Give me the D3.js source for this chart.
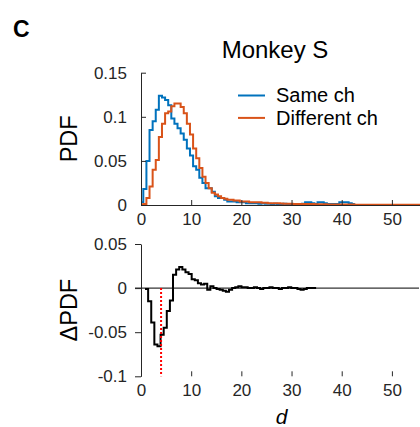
<!DOCTYPE html>
<html><head><meta charset="utf-8">
<script src="https://cdn.jsdelivr.net/npm/d3@7"></script>
<style>body{margin:0;background:#fff}svg{display:block}</style>
</head><body>
<script>
// ---------- data ----------
const binWidth = 0.62;          // histogram bin width (d units)
const histStart = -0.16;        // first edge of top-panel bins
const diffStart = 0.8;          // first edge of ΔPDF bins
const sameCh = [0.003,0.018,0.050,0.085,0.095,0.108,0.124,0.122,0.119,0.113,
  0.098,0.092,0.087,0.081,0.074,0.064,0.056,0.044,0.040,0.031,
  0.025,0.019,0.019,0.015,0.010,0.008,0.008,0.006,0.004,0.004,
  0.004,0.003,0.003,0.003,0.002,0.002,0.002,0.002,0.0015,0.002,
  0.0015,0.0015,0.001,0.0015,0.001,0.001,0.0015,0.001,0.001,0.001,
  0.001,0.001,0.0015,0.003,0.003,0.002,0.001,0.003,0.003,0.002,
  0.001,0.001,0.001,0.001,0.003,0.003,0.003,0.002,0.001];
const diffCh = [0.000,0.001,0.008,0.021,0.040,0.051,0.077,0.092,0.104,0.106,
  0.112,0.115,0.115,0.111,0.104,0.092,0.080,0.064,0.053,0.042,
  0.032,0.025,0.019,0.014,0.012,0.010,0.008,0.007,0.006,0.006,
  0.005,0.005,0.004,0.004,0.004,0.003,0.003,0.003,0.003,0.0025,
  0.0025,0.002,0.002,0.002,0.002,0.0018,0.0015,0.0015,0.0015,0.0012,
  0.0012,0.001,0.001,0.001,0.001,0.001,0.0008,0.0008,0.0008,0.0008,
  0.0007,0.0007,0.0006,0.0006,0.0006,0.0005,0.0005,0.0005,0.0005,0.0004,
  0.0004,0.0004,0.0004,0.0004,0.0003,0.0003,0.0003,0.0003,0.0003,0.0003,
  0.0003,0.0002,0.0002,0.0002,0.0002,0.0002,0.0002,0.0002,0.0002,0.0002];
const deltaPDF = [-0.001,-0.015,-0.039,-0.064,-0.066,-0.053,-0.045,-0.026,-0.014,0.015,
  0.021,0.024,0.021,0.018,0.016,0.010,0.009,0.0056,0.004,0.005,
  -0.002,0.002,0.000,-0.001,-0.002,-0.003,-0.004,-0.002,0.000,0.001,
  0.002,0.001,0.001,0.000,0.000,0.001,0.000,-0.001,0.000,0.000,
  0.001,0.000,0.000,-0.001,0.000,0.000,0.001,0.000,0.000,-0.001,
  -0.002,-0.001,0.000,0.000,0.000];
const criticalD = 4.0;
const xTicks = [0,10,20,30,40,50];
const topYTicks = [0,0.05,0.1,0.15];
const topYLabels = ["0","0.05","0.1","0.15"];
const botYTicks = [-0.1,-0.05,0,0.05];
const botYLabels = ["-0.1","-0.05","0","0.05"];
const legendLabels = ["Same ch","Different ch"];
const colors = ["#0072BD","#D95319"];

// ---------- drawing ----------
const W = 420, H = 427;
const svg = d3.select("body").append("svg").attr("width",W).attr("height",H);
const axisCol = "#262626";
const tickFont = "'Liberation Sans', Arial, sans-serif";
const labFont = "'Liberation Sans', Arial, sans-serif";

const x = d3.scaleLinear().domain([0,56]).range([141,422]);
const yTop = d3.scaleLinear().domain([0,0.15]).range([205,72.7]);
const yBot = d3.scaleLinear().domain([-0.1,0.05]).range([376.3,244]);

function stepPoints(vals, start, clip0){
  const pts = vals.map((v,i)=>[Math.max(start + i*binWidth, clip0?0:-Infinity), v]);
  pts.push([start + vals.length*binWidth, vals[vals.length-1]]);
  return pts;
}

// top panel series
[sameCh, diffCh].forEach((vals,i)=>{
  const pts = stepPoints(vals, histStart, true);
  const line = d3.line().x(p=>x(Math.min(p[0],56))).y(p=>yTop(p[1])).curve(d3.curveStepAfter);
  svg.append("path").attr("d", line(pts)).attr("fill","none")
     .attr("stroke", colors[i]).attr("stroke-width",2).attr("stroke-linejoin","miter");
});

// top axes
const gTopY = svg.append("g").attr("transform",`translate(${x(0)},0)`)
  .call(d3.axisLeft(yTop).tickValues(topYTicks).tickFormat((d,i)=>topYLabels[i]).tickSizeInner(-5).tickSizeOuter(0).tickPadding(14));
const gTopX = svg.append("g").attr("transform",`translate(0,${yTop(0)})`)
  .call(d3.axisBottom(x).tickValues(xTicks).tickFormat(d3.format("d")).tickSizeInner(-5).tickSizeOuter(0).tickPadding(8));

// bottom panel
svg.append("line").attr("x1",135).attr("x2",419).attr("y1",yBot(0)).attr("y2",yBot(0))
  .attr("stroke","#000").attr("stroke-width",1);
const gBotY = svg.append("g").attr("transform",`translate(${x(0)},0)`)
  .call(d3.axisLeft(yBot).tickValues(botYTicks).tickFormat((d,i)=>botYLabels[i]).tickSizeInner(6).tickSizeOuter(0).tickPadding(8));
const gBotX = svg.append("g").attr("transform",`translate(0,${yBot(-0.1)})`)
  .call(d3.axisBottom(x).tickValues(xTicks).tickFormat(d3.format("d")).tickSizeInner(-5).tickSizeOuter(0).tickPadding(8));
gBotX.select(".domain").remove();

[gTopY,gTopX,gBotY,gBotX].forEach(g=>{
  g.selectAll("path,line").attr("stroke",axisCol);
  g.selectAll("text").attr("fill",axisCol).style("font-family",tickFont).style("font-size","17px");
});

const dLine = d3.line().x(p=>x(p[0])).y(p=>yBot(p[1])).curve(d3.curveStepAfter);
svg.append("path").attr("d", dLine(stepPoints(deltaPDF, diffStart, false))).attr("fill","none")
  .attr("stroke","#000").attr("stroke-width",2);
svg.append("line").attr("x1",x(criticalD)).attr("x2",x(criticalD))
  .attr("y1",yBot(0)).attr("y2",yBot(-0.1))
  .attr("stroke","#ff0000").attr("stroke-width",2).attr("stroke-dasharray","2,2");

// texts
svg.append("text").attr("x",13).attr("y",37).text("C")
  .style("font-family",tickFont).style("font-weight","bold").style("font-size","23px").attr("fill","#000");
svg.append("text").attr("x",275).attr("y",58).attr("text-anchor","middle").text("Monkey S")
  .style("font-family",labFont).style("font-size","24px").attr("fill","#000");
// legend
const legY0 = 95.5, legStep = 22.4;
legendLabels.forEach((l,i)=>{
  const yy = legY0 + i*legStep;
  svg.append("line").attr("x1",238).attr("x2",265).attr("y1",yy).attr("y2",yy)
    .attr("stroke",colors[i]).attr("stroke-width",2);
  svg.append("text").attr("x",276).attr("y",yy + 6.8).text(l)
    .style("font-family",labFont).style("font-size","20px").attr("fill","#000");
});
svg.append("text").attr("transform",`translate(77,${(yTop(0)+yTop(0.15))/2}) rotate(-90)`)
  .attr("text-anchor","middle").text("PDF")
  .style("font-family",labFont).style("font-size","23.5px").attr("fill","#000");
svg.append("text").attr("transform",`translate(77,${yBot(-0.025)}) rotate(-90)`)
  .attr("text-anchor","middle").text("ΔPDF")
  .style("font-family",labFont).style("font-size","23.5px").attr("fill","#000");
svg.append("text").attr("x",(x(0)+x(56))/2).attr("y",424).attr("text-anchor","middle").text("d")
  .style("font-family",tickFont).style("font-style","italic").style("font-size","21px").attr("fill","#000");
</script>
</body></html>
